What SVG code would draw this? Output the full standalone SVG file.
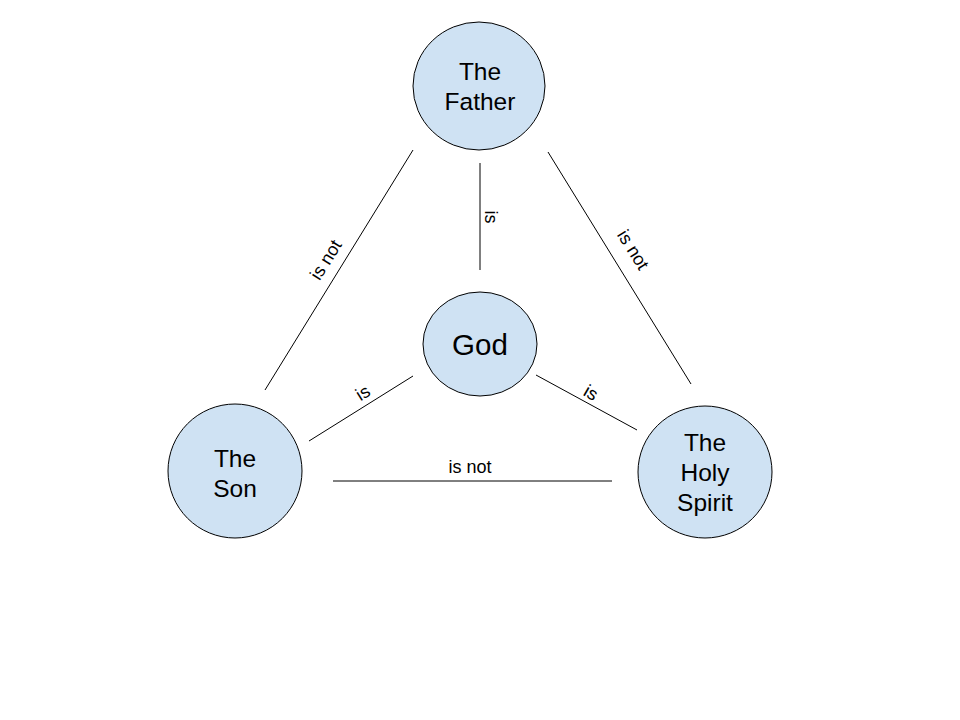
<svg xmlns="http://www.w3.org/2000/svg" width="960" height="720" viewBox="0 0 960 720">
<style>
.node{fill:#cfe2f3;stroke:#000;stroke-width:1}
.nt{font-family:"Liberation Sans",Arial,sans-serif;font-size:24.5px;fill:#000;text-anchor:middle}
.lbl{font-family:"Liberation Sans",Arial,sans-serif;font-size:18px;fill:#000;text-anchor:middle}
.edge{stroke:#000;stroke-width:1;fill:none}
</style>
<rect width="960" height="720" fill="#fff"/>
<g id="connectors">
<line class="edge" x1="480" y1="163" x2="480" y2="270"/>
<line class="edge" x1="413" y1="150" x2="265" y2="390"/>
<line class="edge" x1="548" y1="152" x2="691" y2="384"/>
<line class="edge" x1="413" y1="376" x2="309" y2="441"/>
<line class="edge" x1="536" y1="375" x2="637" y2="430"/>
<line class="edge" x1="333" y1="481" x2="612" y2="481"/>
<text class="lbl" transform="translate(485,217) rotate(90)">is</text>
<text class="lbl" transform="translate(331,263) rotate(-58)">is not</text>
<text class="lbl" transform="translate(628,253) rotate(58)">is not</text>
<text class="lbl" transform="translate(366,398) rotate(-32)">is</text>
<text class="lbl" transform="translate(588,398) rotate(30)">is</text>
<text class="lbl" x="470" y="473">is not</text>
</g>
<g id="father">
<ellipse class="node" cx="479" cy="86" rx="66" ry="64"/>
<text class="nt" x="480" y="80">The</text>
<text class="nt" x="480" y="110">Father</text>
</g>
<g id="god">
<ellipse class="node" cx="480" cy="344" rx="57" ry="52"/>
<text class="nt" x="480" y="355" style="font-size:29.5px">God</text>
</g>
<g id="son">
<ellipse class="node" cx="235" cy="471" rx="67" ry="67"/>
<text class="nt" x="235" y="467">The</text>
<text class="nt" x="235" y="497">Son</text>
</g>
<g id="spirit">
<ellipse class="node" cx="705" cy="472" rx="67" ry="66"/>
<text class="nt" x="705" y="451">The</text>
<text class="nt" x="705" y="481">Holy</text>
<text class="nt" x="705" y="511">Spirit</text>
</g>
</svg>
